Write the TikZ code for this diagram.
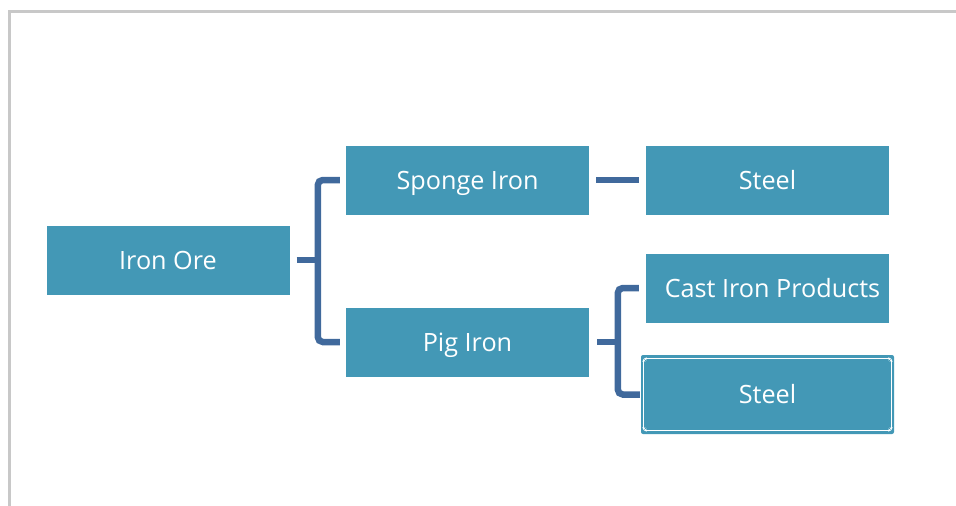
\documentclass[tikz,border=0pt]{standalone}
\usepackage{fontspec}
\setmainfont{Open Sans}
\usetikzlibrary{arrows.meta}
\definecolor{boxc}{HTML}{4398B6}
\definecolor{connc}{HTML}{40699C}
\definecolor{framec}{HTML}{C8C8C8}
\begin{document}
\begin{tikzpicture}[x=1pt,y=-1pt,
  box/.style={fill=boxc,draw=none,inner sep=0pt,minimum width=243pt,minimum height=69pt,
    text height=18pt,text depth=0pt,
    text=white,font=\fontsize{25.2}{30}\selectfont},
  conn/.style={draw=connc,line width=6.5pt,line cap=butt},
  sel/.style={draw=white,line width=1pt,{Stealth[length=3pt,width=3pt]}-{Stealth[length=3pt,width=3pt]}}]
\useasboundingbox (0,0) rectangle (956,506);
% frame
\draw[framec,line width=3pt] (9,506) -- (9,11) -- (956,11);
% nodes
\node[box] (ore) at (168,260) {Iron Ore};
\node[box] (sponge) at (467.5,180) {Sponge Iron};
\node[box] (pig) at (467.5,342) {Pig Iron};
\node[box] (steela) at (767.5,180) {Steel};
\node[box] (cast) at (767.5,288) {\hspace*{10pt}Cast Iron Products};
\node[box,minimum width=253pt,minimum height=79pt,rounded corners=2pt] (steelb) at (767.5,394.5) {Steel};
% selection marks on bottom steel box
\draw[sel] ([xshift=3pt,yshift=-4pt]steelb.north west) -- ([xshift=-3pt,yshift=-4pt]steelb.north east);
\draw[sel] ([xshift=3pt,yshift=4pt]steelb.south west) -- ([xshift=-3pt,yshift=4pt]steelb.south east);
\draw[sel] ([xshift=3pt,yshift=-4pt]steelb.north west) -- ([xshift=3pt,yshift=4pt]steelb.south west);
\draw[sel] ([xshift=-3pt,yshift=-4pt]steelb.north east) -- ([xshift=-3pt,yshift=4pt]steelb.south east);
% connectors
\draw[conn] ([xshift=7pt]ore.east) -- ++(21,0);
\draw[conn,rounded corners=5pt] ([xshift=-6pt]sponge.west) -- ++(-22,0) |- ([xshift=-6pt]pig.west);
\draw[conn] ([xshift=7pt]sponge.east) -- ([xshift=-7pt]steela.west);
\draw[conn] ([xshift=8pt]pig.east) -- ++(21,0);
\draw[conn,rounded corners=5pt] ([xshift=-7pt]cast.west) -- ++(-21,0) |- ([xshift=-1pt]steelb.west);
\end{tikzpicture}
\end{document}
